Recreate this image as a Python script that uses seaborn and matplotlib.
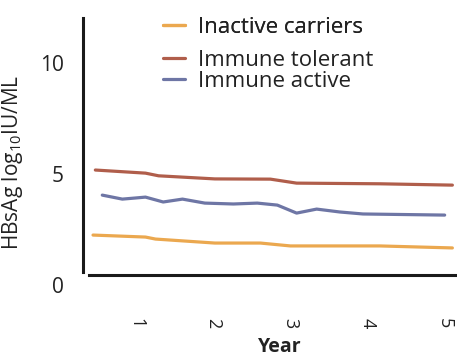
import matplotlib
matplotlib.use("Agg")
import matplotlib.pyplot as plt
import matplotlib.transforms as mtransforms
import seaborn as sns
import pandas as pd
from matplotlib.lines import Line2D

# HBsAg levels over follow-up, by phase of infection
inactive_years = [0.44, 1.12, 1.25, 2.02, 2.61, 3.0, 4.16, 5.10]
inactive_vals = [2.25, 2.16, 2.07, 1.89, 1.89, 1.76, 1.76, 1.67]

tolerant_years = [0.47, 1.12, 1.29, 2.02, 2.74, 3.08, 4.16, 5.10]
tolerant_vals = [5.18, 5.04, 4.92, 4.78, 4.77, 4.59, 4.56, 4.50]

active_years = [0.56, 0.82, 0.99, 1.12, 1.35, 1.60, 1.89, 2.26, 2.57, 2.83,
                3.08, 3.34, 3.64, 3.94, 5.0]
active_vals = [4.05, 3.87, 3.92, 3.96, 3.74, 3.87, 3.69, 3.65, 3.69, 3.60,
               3.24, 3.42, 3.29, 3.20, 3.15]

groups = ["Inactive carriers", "Immune tolerant", "Immune active"]
colors = {"Inactive carriers": "#eba84f",
          "Immune tolerant": "#b05e4b",
          "Immune active": "#6e76a5"}

x_ticks = [1, 2, 3, 4, 5]
y_ticks = [0, 5, 10]

df = pd.concat([
    pd.DataFrame({"Year": inactive_years, "HBsAg": inactive_vals, "group": groups[0]}),
    pd.DataFrame({"Year": tolerant_years, "HBsAg": tolerant_vals, "group": groups[1]}),
    pd.DataFrame({"Year": active_years, "HBsAg": active_vals, "group": groups[2]}),
], ignore_index=True)

sns.set_theme(style="white")
FONT = "Open Sans"
plt.rcParams["font.family"] = [FONT, "DejaVu Sans"]
plt.rcParams["mathtext.fontset"] = "custom"
plt.rcParams["mathtext.rm"] = FONT
plt.rcParams["mathtext.default"] = "regular"

W, H = 457, 356
fig = plt.figure(figsize=(W / 100, H / 100), dpi=100)
ax = fig.add_axes([83 / W, (H - 285) / H, (457 - 83) / W, (285 - 18) / H])

sns.lineplot(data=df, x="Year", y="HBsAg", hue="group", hue_order=groups,
             palette=colors, linewidth=2.3, legend=False, ax=ax, estimator=None,
             sort=False)

ax.set_xlim(0.31, 5.16)
ax.set_ylim(0, 12.03)
ax.set_xticks(x_ticks)
ax.set_yticks(y_ticks)
ax.set_xticklabels([str(t) for t in x_ticks])
ax.set_yticklabels([str(t) for t in y_ticks])
ax.tick_params(axis="x", length=0, pad=31, labelsize=13, labelcolor="#222222",
               labelrotation=270)
ax.tick_params(axis="y", length=0, pad=14, labelsize=15, labelcolor="#222222")
# rotated digits sit right of their bbox centre; nudge them back over the ticks
shift = mtransforms.ScaledTranslation(-4 / 100, 0, fig.dpi_scale_trans)
for lbl in ax.get_xticklabels():
    lbl.set_transform(lbl.get_transform() + shift)

for side in ["top", "right"]:
    ax.spines[side].set_visible(False)
ax.spines["left"].set_color("#1a1a1a")
ax.spines["left"].set_linewidth(2.2)
ax.spines["left"].set_bounds(0.6, 12.03)
ax.spines["bottom"].set_color("#1a1a1a")
ax.spines["bottom"].set_linewidth(2.2)
ax.spines["bottom"].set_position(("data", 0.45))
ax.spines["bottom"].set_bounds(0.39, 5.16)

ax.set_xlabel("Year", fontsize=14, fontweight="bold", color="#222222")
ax.xaxis.set_label_coords((280 - 83) / (457 - 83), -(337 - 285) / (285 - 18))
ax.set_ylabel("HBsAg log$_{10}$IU/ML", fontsize=15, color="#222222")
ax.yaxis.set_label_coords(-(83 - 25) / (457 - 83), 0.46)

handles = [Line2D([], [], color=colors[g], linewidth=2.3) for g in groups]
leg1 = fig.legend(handles[:1], groups[:1], loc="upper left",
                  bbox_to_anchor=(152 / W, 1 - 6 / H), frameon=False,
                  fontsize=16, handlelength=1.0, handletextpad=0.55,
                  borderpad=0, labelcolor="#222222")
fig.add_artist(leg1)
fig.legend(handles[1:], groups[1:], loc="upper left",
           bbox_to_anchor=(152 / W, 1 - 39 / H), frameon=False,
           fontsize=16, handlelength=1.0, handletextpad=0.55,
           borderpad=0, labelspacing=0.0, labelcolor="#222222")

fig.savefig("out.png", dpi=100)
